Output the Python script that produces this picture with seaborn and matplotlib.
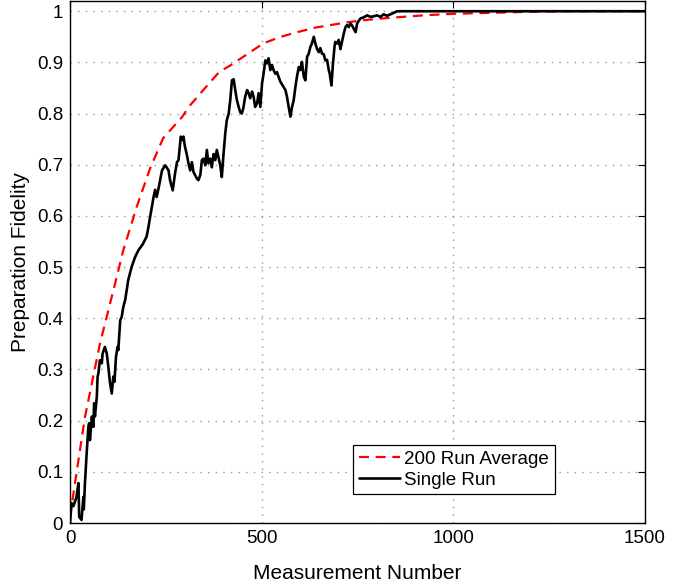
import numpy as np
import pandas as pd
import matplotlib
matplotlib.use('Agg')
import matplotlib.pyplot as plt
import seaborn as sns

# 200 run average (red dashed)
avg_x = [0, 13, 39, 78, 118, 139, 175, 209, 243, 292, 313, 350, 390, 418, 460,
         505, 550, 592, 640, 680, 720, 760, 800, 850, 923, 1000, 1100, 1200, 1300, 1500]
avg_y = [0.012, 0.078, 0.207, 0.35, 0.469, 0.533, 0.62, 0.693, 0.752, 0.793, 0.816,
         0.848, 0.882, 0.894, 0.915, 0.9375, 0.95, 0.959, 0.968, 0.973, 0.978, 0.982,
         0.985, 0.988, 0.992, 0.995, 0.997, 0.999, 1.0, 1.0]

# single run (black solid)
run_x = [0, 4, 9, 17, 22, 24, 30, 35, 36, 39, 44, 48, 50, 52, 57, 61, 63, 65, 70, 72,
         74, 78, 83, 85, 91, 96, 100, 104.5, 109, 113, 116, 120, 124, 126, 131, 135, 139,
         144, 148, 152, 161, 170, 178.5, 190, 200, 205, 209, 218, 222, 226, 231, 240,
         248, 252, 257, 261, 268, 274, 279, 283, 289, 294, 296, 300, 305, 309, 313.5,
         318, 322, 331, 335, 340, 344, 348, 353, 357, 361, 366, 370, 374.5, 379, 383,
         387, 392, 396, 400.5, 405, 409, 414, 418, 422.5, 427, 431, 435.5, 440, 444,
         448, 452, 457, 462, 466, 470, 475, 479, 483, 488, 492, 496.5, 501, 505, 509.5,
         514, 518, 522.6, 527, 531, 535.7, 540, 544, 549, 557, 562, 566, 570, 575, 579,
         583.5, 588, 592, 597, 601, 605, 610, 614, 618.5, 622.7, 627, 631, 636, 640,
         644.6, 649, 653, 657.5, 662, 666, 670.6, 675, 677.6, 682, 686, 690, 692, 697,
         701, 705.5, 710, 714, 718.6, 723, 727, 731.6, 736, 740, 745, 749, 753, 758,
         766, 775, 784, 792, 801, 810, 818, 827, 836, 845, 853.6, 900, 1000, 1200, 1500]
run_y = [0.0, 0.039, 0.033, 0.051, 0.078, 0.012, 0.006, 0.051, 0.027, 0.078, 0.143,
         0.188, 0.195, 0.162, 0.208, 0.188, 0.234, 0.208, 0.247, 0.286, 0.292, 0.318,
         0.312, 0.331, 0.344, 0.331, 0.305, 0.273, 0.253, 0.286, 0.276, 0.325, 0.344,
         0.338, 0.396, 0.403, 0.422, 0.436, 0.455, 0.475, 0.501, 0.52, 0.533, 0.545,
         0.56, 0.58, 0.598, 0.637, 0.651, 0.637, 0.654, 0.689, 0.699, 0.695, 0.689,
         0.67, 0.65, 0.683, 0.705, 0.709, 0.755, 0.748, 0.755, 0.735, 0.719, 0.703,
         0.689, 0.705, 0.686, 0.673, 0.67, 0.68, 0.709, 0.712, 0.699, 0.729, 0.703,
         0.712, 0.695, 0.721, 0.709, 0.729, 0.716, 0.699, 0.676, 0.721, 0.761, 0.787,
         0.8, 0.826, 0.865, 0.867, 0.846, 0.826, 0.813, 0.803, 0.8, 0.81, 0.833, 0.846,
         0.84, 0.83, 0.843, 0.833, 0.813, 0.82, 0.84, 0.813, 0.859, 0.878, 0.904,
         0.898, 0.908, 0.885, 0.895, 0.885, 0.878, 0.881, 0.872, 0.862, 0.852, 0.846,
         0.833, 0.815, 0.794, 0.812, 0.826, 0.852, 0.872, 0.891, 0.885, 0.901, 0.872,
         0.865, 0.911, 0.917, 0.93, 0.937, 0.95, 0.937, 0.926, 0.92, 0.928, 0.917,
         0.916, 0.904, 0.905, 0.885, 0.878, 0.855, 0.898, 0.93, 0.94, 0.937, 0.944,
         0.926, 0.942, 0.956, 0.969, 0.973, 0.969, 0.976, 0.972, 0.966, 0.959, 0.976,
         0.981, 0.986, 0.988, 0.992, 0.989, 0.99, 0.992, 0.989, 0.994, 0.991, 0.994,
         0.997, 1.0, 1.0, 1.0, 1.0, 1.0]

x_ticks = [0, 500, 1000, 1500]
y_ticks = [0, 0.1, 0.2, 0.3, 0.4, 0.5, 0.6, 0.7, 0.8, 0.9, 1]

sns.set_style('white')
plt.rcParams['font.family'] = ['Liberation Sans', 'DejaVu Sans']
plt.rcParams['text.color'] = 'black'
plt.rcParams['axes.labelcolor'] = 'black'

fig = plt.figure(figsize=(6.92, 5.88), dpi=100)
ax = fig.add_axes([70 / 692, 65 / 588, 575 / 692, 522 / 588])

avg = pd.DataFrame({'n': avg_x, 'f': avg_y})
run = pd.DataFrame({'n': run_x, 'f': run_y})

sns.lineplot(x='n', y='f', data=avg, ax=ax, color='red', linewidth=1.6,
             estimator=None, sort=False, label='200 Run Average')
ax.lines[-1].set_dashes([4.5, 3])
sns.lineplot(x='n', y='f', data=run, ax=ax, color='black', linewidth=1.9,
             estimator=None, sort=False, label='Single Run')

ax.set_xlim(0, 1500)
ax.set_ylim(0, 1.02)
ax.set_xticks(x_ticks)
ax.set_yticks(y_ticks)
ax.set_yticklabels([f'{v:g}' for v in y_ticks])
ax.grid(True, color='#999999', linewidth=1.0, dashes=(1, 4.5))
ax.tick_params(direction='in', length=5, width=0.8, top=True, right=True,
               labelsize=13.5, colors='black', pad=5)
for s in ax.spines.values():
    s.set_color('black')
    s.set_linewidth(1.0)

ax.set_xlabel('Measurement Number', fontsize=15, labelpad=12)
ax.set_ylabel('Preparation Fidelity', fontsize=15, labelpad=5)

leg = ax.legend(loc='upper left', bbox_to_anchor=(0.492, 0.149), fontsize=13.5,
                frameon=True, fancybox=False, framealpha=1, edgecolor='black',
                handlelength=2.2, handletextpad=0.25, borderpad=0.3,
                labelspacing=0.2, borderaxespad=0)
leg.get_frame().set_linewidth(0.9)

fig.savefig('out.png', dpi=100)
